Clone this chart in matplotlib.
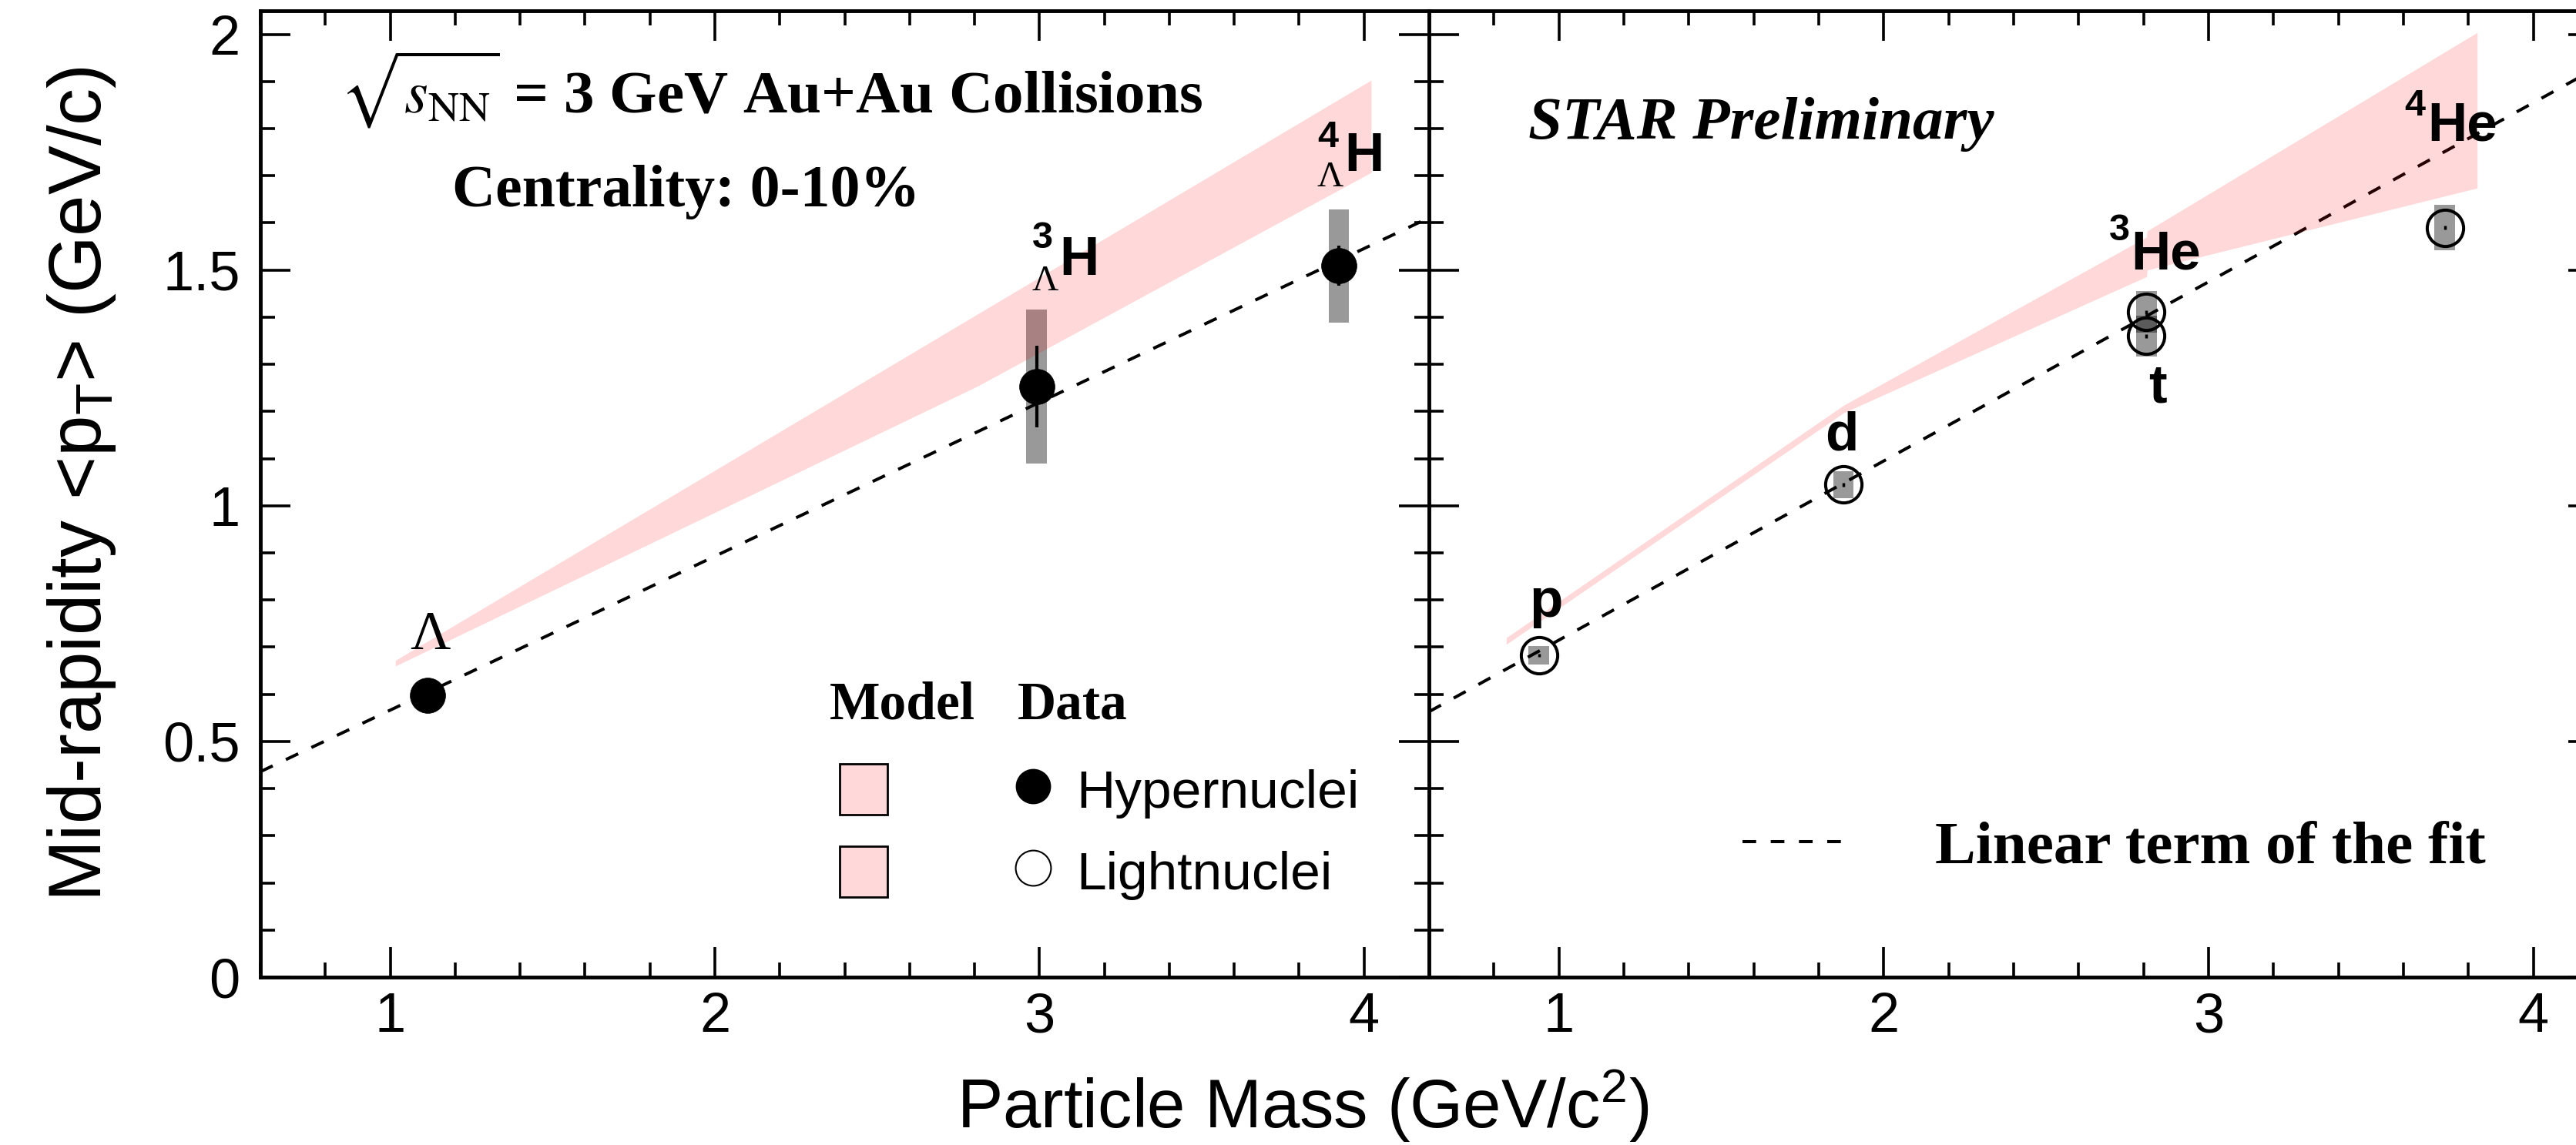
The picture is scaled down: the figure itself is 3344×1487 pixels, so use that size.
import matplotlib
matplotlib.use('Agg')
import matplotlib.pyplot as plt
from matplotlib.patches import Patch
from matplotlib.lines import Line2D
from matplotlib.ticker import MultipleLocator, FuncFormatter

plt.rcParams.update({
    'font.family': ['Liberation Sans', 'DejaVu Sans'],
    'mathtext.fontset': 'custom',
    'mathtext.rm': 'Liberation Sans',
    'mathtext.it': 'Liberation Sans:italic',
    'mathtext.bf': 'Liberation Sans:bold',
    'mathtext.default': 'regular',
})

# ---------------- data ----------------
hyper_names = ['Lambda', 'H3L', 'H4L']
hyper_mass = [1.116, 2.991, 3.922]
hyper_mpt = [0.598, 1.253, 1.509]
hyper_stat = [0.004, 0.087, 0.042]
hyper_sys = [0.02, 0.163, 0.12]

light_names = ['p', 'd', 't', 'He3', 'He4']
light_mass = [0.938, 1.876, 2.809, 2.809, 3.727]
light_mpt = [0.683, 1.045, 1.360, 1.411, 1.590]
light_stat = [0.003, 0.004, 0.004, 0.004, 0.004]
light_sys = [0.019, 0.029, 0.043, 0.044, 0.048]

# linear term of the fit: intercept, slope
hyper_fit = (0.240, 0.3264)
light_fit = (0.335, 0.380)

# model bands
hyper_band_mass = [1.016, 2.81, 4.022]
hyper_band_lo = [0.660, 1.254, 1.707]
hyper_band_hi = [0.672, 1.407, 1.903]

light_band_mass = [0.838, 1.876, 2.809, 2.811, 3.827]
light_band_lo = [0.706, 1.197, 1.486, 1.500, 1.674]
light_band_hi = [0.720, 1.213, 1.570, 1.583, 2.004]

xticks = [1, 2, 3, 4]
yticks = [0, 0.5, 1, 1.5, 2]

# ---------------- figure ----------------
W, H = 3344, 1487
fig = plt.figure(figsize=(W / 100, H / 100), dpi=100)
axL = fig.add_axes([338 / W, (H - 1269) / H, 1517 / W, 1255 / H])
axR = fig.add_axes([1855 / W, (H - 1269) / H, 1518 / W, 1255 / H])

SANS = 'Liberation Sans'
SERIF = 'Liberation Serif'
band_color = (1.0, 0.0, 0.0, 0.15)
dash = (0, (4.4, 4.7))

for ax in (axL, axR):
    ax.set_xlim(0.6, 4.2)
    ax.set_ylim(0, 2.05)
    ax.set_xticks(xticks)
    ax.set_yticks(yticks)
    ax.xaxis.set_minor_locator(MultipleLocator(0.2))
    ax.yaxis.set_minor_locator(MultipleLocator(0.1))
    ax.tick_params(which='both', direction='in', top=True, right=True,
                   width=2.6, colors='black')
    ax.tick_params(which='major', length=28)
    ax.tick_params(which='minor', length=14)
    ax.tick_params(axis='x', pad=14, labelsize=52)
    ax.tick_params(axis='y', pad=19, labelsize=52)
    ax.xaxis.set_major_formatter(FuncFormatter(lambda v, p: f'{v:g}'))
    ax.yaxis.set_major_formatter(FuncFormatter(lambda v, p: f'{v:g}'))
    for s in ax.spines.values():
        s.set_linewidth(3.5)
    for lab in ax.get_xticklabels() + ax.get_yticklabels():
        lab.set_family(SANS)
axR.tick_params(axis='y', labelleft=False)

# ---------------- left panel: hypernuclei ----------------
axL.bar(hyper_mass, [2 * s for s in hyper_sys],
        bottom=[v - s for v, s in zip(hyper_mpt, hyper_sys)],
        width=0.062, color='black', alpha=0.4, lw=0, zorder=1)
axL.axline((0, hyper_fit[0]), slope=hyper_fit[1], color='black',
           lw=2.9, ls=dash, zorder=2)
axL.fill_between(hyper_band_mass, hyper_band_lo, hyper_band_hi,
                 color=band_color, lw=0, zorder=3)
axL.errorbar(hyper_mass, hyper_mpt, yerr=hyper_stat, fmt='o', ms=33,
             mfc='black', mec='black', mew=0.5, ecolor='black',
             elinewidth=3, capsize=0, zorder=4)

# ---------------- right panel: light nuclei ----------------
axR.bar(light_mass, [2 * s for s in light_sys],
        bottom=[v - s for v, s in zip(light_mpt, light_sys)],
        width=0.062, color='black', alpha=0.4, lw=0, zorder=1)
axR.axline((0, light_fit[0]), slope=light_fit[1], color='black',
           lw=2.9, ls=dash, zorder=2)
axR.fill_between(light_band_mass, light_band_lo, light_band_hi,
                 color=band_color, lw=0, zorder=3)
axR.errorbar(light_mass, light_mpt, yerr=light_stat, fmt='o', ms=34,
             mfc='none', mec='black', mew=2.9, ecolor='black',
             elinewidth=2.5, capsize=0, zorder=4)

# ---------------- particle labels ----------------
def lab(ax, x, y, s, dx, dy, size, family=SANS, weight='bold', ha='left'):
    ax.annotate(s, xy=(x, y), xytext=(dx, dy), textcoords='offset pixels',
                ha=ha, va='baseline', fontsize=size, family=family,
                weight=weight, zorder=6)

# Lambda
lab(axL, hyper_mass[0], hyper_mpt[0], 'Λ', 3, 60, 52, SERIF, 'normal', 'center')
# 3/Lambda H
lab(axL, hyper_mass[1], hyper_mpt[1], 'H', 30, 145, 51)
lab(axL, hyper_mass[1], hyper_mpt[1], '3', -6, 180, 35)
lab(axL, hyper_mass[1], hyper_mpt[1], 'Λ', -6, 125, 34, SERIF, 'normal')
# 4/Lambda H
lab(axL, hyper_mass[2], hyper_mpt[2], 'H', 7, 123, 51)
lab(axL, hyper_mass[2], hyper_mpt[2], '4', -28, 154, 35)
lab(axL, hyper_mass[2], hyper_mpt[2], 'Λ', -28, 103, 34, SERIF, 'normal')

# light nuclei
lab(axR, light_mass[0], light_mpt[0], 'p', 9, 50, 51, ha='center')
lab(axR, light_mass[1], light_mpt[1], 'd', -2, 45, 51, ha='center')
lab(axR, light_mass[2], light_mpt[2], 't', 14, -86, 51, ha='center')
lab(axR, light_mass[3], light_mpt[3], 'He', -20, 56, 51)
lab(axR, light_mass[3], light_mpt[3], '3', -49, 93, 35)
lab(axR, light_mass[4], light_mpt[4], 'He', -22, 113, 51)
lab(axR, light_mass[4], light_mpt[4], '4', -52, 146, 35)

# ---------------- annotations ----------------
axL.text(0.0679, 0.894, r'$\sqrt{\mathit{s}_{\mathrm{NN}}}$ = 3 GeV Au+Au Collisions',
         transform=axL.transAxes, fontsize=57, family=SERIF, weight='bold',
         math_fontfamily='stix', va='baseline', ha='left')
axL.text(0.1642, 0.798, 'Centrality: 0-10%', transform=axL.transAxes,
         fontsize=56, family=SERIF, weight='bold', va='baseline', ha='left')
axR.text(0.085, 0.8677, 'STAR Preliminary', transform=axR.transAxes,
         fontsize=57, family=SERIF, weight='bold', style='italic',
         va='baseline', ha='left')

# legend (left panel)
axL.text(0.4871, 0.2677, 'Model', transform=axL.transAxes, fontsize=50,
         family=SERIF, weight='bold', va='baseline', ha='left')
axL.text(0.648, 0.2677, 'Data', transform=axL.transAxes, fontsize=50,
         family=SERIF, weight='bold', va='baseline', ha='left')
model_patch = Patch(facecolor=band_color, edgecolor='black', lw=2)
h_hyper = Line2D([], [], ls='none', marker='o', ms=32, mfc='black', mec='black')
h_light = Line2D([], [], ls='none', marker='o', ms=33, mfc='none', mec='black', mew=1.5)
legL = axL.legend([model_patch, model_patch, h_hyper, h_light],
                  ['', '', 'Hypernuclei', 'Lightnuclei'], ncol=2,
                  loc='upper left', bbox_to_anchor=(0.4957, 0.2205),
                  frameon=False, borderpad=0, borderaxespad=0,
                  handlelength=0.9, handleheight=1.08, handletextpad=0.36,
                  columnspacing=1.9, labelspacing=0.52,
                  prop={'family': SANS, 'size': 50})

# legend (right panel)
h_fit = Line2D([], [], color='black', lw=2.9, ls=(0, (4.4, 4.7)))
axR.legend([h_fit], ['Linear term of the fit'], loc='upper left',
           bbox_to_anchor=(0.268, 0.1625), frameon=False, borderpad=0,
           borderaxespad=0, handlelength=1.7, handletextpad=1.46,
           prop={'family': SERIF, 'weight': 'bold', 'size': 57})

# axis titles
axL.set_ylabel('Mid-rapidity <p$_{T}$> (GeV/c)', fontsize=69, family=SANS)
axL.yaxis.set_label_coords(-0.122, 0.51)
fig.text(1691 / W, (H - 1465) / H, 'Particle Mass (GeV/c$^{2}$)', fontsize=64,
         family=SANS, ha='center', va='baseline')

fig.savefig('out.png', dpi=100)
